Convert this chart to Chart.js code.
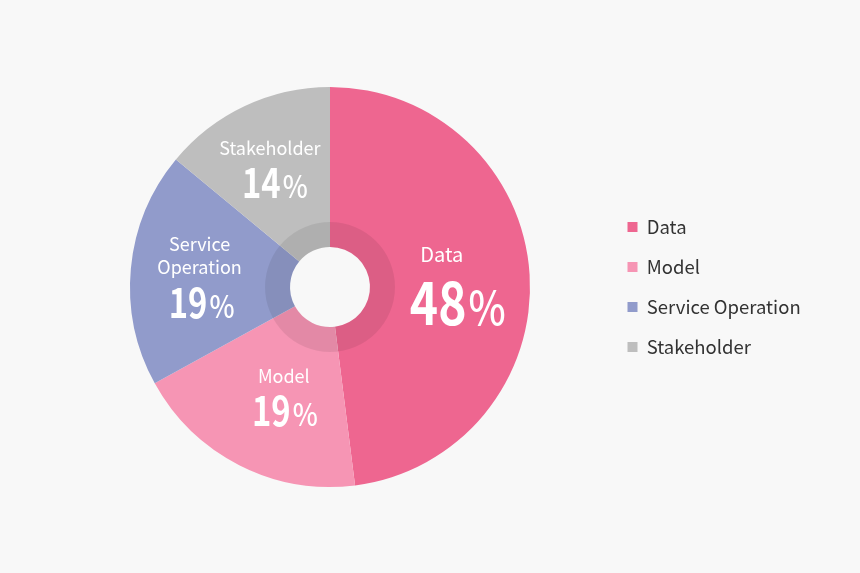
<!DOCTYPE html>
<html>
<head>
<meta charset="utf-8">
<script src="https://cdn.jsdelivr.net/npm/chart.js@4.4.1/dist/chart.umd.min.js"></script>
<style>
    html, body { margin: 0; padding: 0; background: #f8f8f8; }
    .wrap { width: 860px; height: 573px; position: relative; }
</style>
</head>
<body>
<div class="wrap"><canvas id="shareChart"></canvas></div>
<script>
// Data
const categories = ['Data', 'Model', 'Service Operation', 'Stakeholder'];
const shares = [48, 19, 19, 14];
const sliceNames = [['Data'], ['Model'], ['Service', 'Operation'], ['Stakeholder']];

// Style
const sliceColors = ['#ee6690', '#f695b4', '#919bcb', '#bebebe'];
const pctSizes = [60, 41, 41, 41];
const nameSizes = [20, 18, 18, 18];
// small hand tweaks for the in-slice labels (block shift x, y, name shift x)
const labelDx = [2, 12, -3, -1.5];
const labelDy = [3, -5.5, -1.5, -7];
const nameDx = [-16, -1, -2, -5];
const FONT = '"Noto Sans CJK KR", "Noto Sans", sans-serif';

// Legend box: force a fixed width so the pie keeps its spot on the left
const legendWidthPlugin = {
    id: 'legendWidth',
    beforeInit(chart) {
        const lg = chart.legend;
        if (!lg) return;
        const origFit = lg.fit;
        lg.fit = function () {
            origFit.call(this);
            this.width = 254;
        };
    }
};

// Darker ring round the hole + labels inside the slices
const sliceLabelPlugin = {
    id: 'sliceLabels',
    afterDatasetsDraw(chart) {
        const ctx = chart.ctx;
        const meta = chart.getDatasetMeta(0);
        const a0 = meta.data[0];
        const cx = a0.x, cy = a0.y, R = a0.outerRadius;

        ctx.save();
        ctx.beginPath();
        ctx.arc(cx, cy, R * 0.325, 0, Math.PI * 2);
        ctx.arc(cx, cy, a0.innerRadius, 0, Math.PI * 2, true);
        ctx.fillStyle = 'rgba(0, 0, 0, 0.075)';
        ctx.fill('evenodd');

        ctx.fillStyle = '#ffffff';
        ctx.textAlign = 'left';
        ctx.textBaseline = 'alphabetic';

        meta.data.forEach((arc, i) => {
            const mid = (arc.startAngle + arc.endAngle) / 2;
            const ax = cx + Math.cos(mid) * R * 0.63 + labelDx[i];
            const ay = cy + Math.sin(mid) * R * 0.63 + labelDy[i];

            const names = sliceNames[i];
            const ns = nameSizes[i];
            const ps = pctSizes[i];
            const nameCap = ns * 0.73;
            const pitch = ns * 1.33;
            const pctCap = ps * 0.73;
            const gap = ps * 0.33;
            const blockH = nameCap + (names.length - 1) * pitch + gap + pctCap;
            const top = ay - blockH / 2 + 4;

            ctx.font = '400 ' + ns + 'px ' + FONT;
            names.forEach((line, j) => {
                const w = ctx.measureText(line).width;
                ctx.fillText(line, ax + nameDx[i] - w / 2, top + nameCap + j * pitch);
            });

            const base = top + nameCap + (names.length - 1) * pitch + gap + pctCap;
            const sx = 0.8;
            const psx = 0.86;
            const pctFont = '500 ' + Math.round(ps * 0.76) + 'px ' + FONT;
            const num = String(shares[i]);
            ctx.font = '700 ' + ps + 'px ' + FONT;
            const nw = ctx.measureText(num).width * sx;
            ctx.font = pctFont;
            const pw = ctx.measureText('%').width * psx;
            const total = nw + 2 + pw;
            const x = ax - total / 2;

            ctx.save();
            ctx.translate(x, base);
            ctx.scale(sx, 1);
            ctx.font = '700 ' + ps + 'px ' + FONT;
            ctx.fillText(num, 0, 0);
            ctx.restore();

            ctx.save();
            ctx.translate(x + nw + 2, base);
            ctx.scale(psx, 1);
            ctx.font = pctFont;
            ctx.fillText('%', 0, 0);
            ctx.restore();
        });
        ctx.restore();
    }
};

const ctx = document.getElementById('shareChart').getContext('2d');
new Chart(ctx, {
    type: 'doughnut',
    data: {
        labels: categories,
        datasets: [{
            data: shares,
            backgroundColor: sliceColors,
            borderWidth: 0,
            hoverOffset: 0
        }]
    },
    options: {
        responsive: true,
        maintainAspectRatio: false,
        animation: false,
        cutout: '20%',
        layout: { padding: { left: 54, right: 0, top: 87, bottom: 86 } },
        plugins: {
            tooltip: { enabled: false },
            legend: {
                position: 'right',
                align: 'center',
                labels: {
                    boxWidth: 10,
                    boxHeight: 10,
                    padding: 21.5,
                    color: '#333333',
                    font: { family: FONT, size: 18.5 }
                }
            }
        }
    },
    plugins: [legendWidthPlugin, sliceLabelPlugin]
});
</script>
</body>
</html>
